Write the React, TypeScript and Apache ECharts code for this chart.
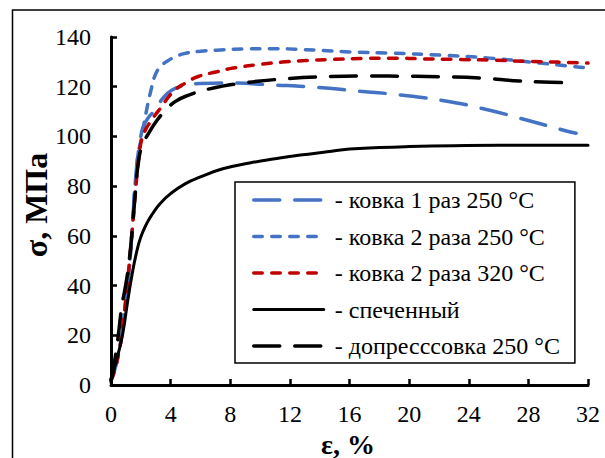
import React, { useEffect, useRef } from "react";
import * as echarts from "echarts";

// ковка 1 раз 250 °C
const forged1Strain = [0, 0.2, 0.45, 0.72, 0.94, 1.12, 1.39, 1.61, 1.8, 2.0, 2.17, 2.5, 2.95, 3.5, 4.07, 4.8, 6, 7.8, 10.9, 13.7, 16.5, 18.9, 22.1, 24.8, 27.4, 30.3, 31.2];
const forged1Stress = [2, 5, 11, 20, 31.5, 40, 60, 80, 92, 100, 104, 107.5, 110.6, 115.5, 118.6, 120.3, 121.3, 121.5, 120.7, 119.8, 118.3, 117, 114.6, 111.4, 107.4, 102.6, 101.3];

// ковка 2 раза 250 °C
const forged2Strain = [0, 0.2, 0.45, 0.72, 0.94, 1.12, 1.39, 1.61, 1.8, 2.06, 2.4, 2.7, 2.95, 3.3, 3.7, 4.2, 4.97, 6, 7.1, 9, 11, 12.7, 14.5, 16, 18.9, 22.1, 25.4, 28.8, 32];
const forged2Stress = [2, 5, 11, 20, 31.5, 40, 60, 80, 92, 100, 111, 119, 124.5, 128, 130, 131.7, 133.4, 134.3, 134.7, 135.2, 135.3, 135, 134.5, 134, 133.5, 132.7, 131.5, 129.5, 127.5];

// ковка 2 раза 320 °C
const forged320Strain = [0, 0.2, 0.45, 0.72, 0.95, 1.15, 1.39, 1.66, 1.85, 2.05, 2.3, 2.6, 2.95, 3.4, 3.85, 4.4, 5.0, 5.8, 7.1, 8.2, 10, 11.5, 13, 14.9, 17, 19, 21, 23, 25.4, 28, 30, 32];
const forged320Stress = [2, 5, 11, 20, 32, 44, 60, 79, 91, 98.5, 102.5, 105.5, 108.5, 112, 115.8, 119.2, 121.5, 124, 126, 127.5, 129, 129.9, 130.5, 131, 131.4, 131.5, 131.2, 131, 130.7, 130.2, 129.9, 129.5];

// спеченный
const sinteredStrain = [0, 0.2, 0.5, 0.8, 1.1, 1.4, 1.7, 2.0, 2.4, 2.8, 3.3, 4, 5, 6, 7.5, 9.3, 11, 12.7, 14.5, 16, 18, 20, 23, 26, 29, 32];
const sinteredStress = [1, 6, 13, 21, 33, 44, 53, 59.5, 65, 69, 73, 77, 81, 83.7, 87, 89.3, 91, 92.5, 93.8, 94.9, 95.5, 95.9, 96.3, 96.5, 96.5, 96.5];

// допресссовка 250 °C
const repressStrain = [0, 0.2, 0.49, 0.72, 0.98, 1.2, 1.39, 1.66, 1.85, 2.1, 2.5, 3.1, 3.6, 4.3, 5.3, 6.5, 8.9, 11.5, 14.2, 17.2, 20, 22.1, 24.8, 27.4, 29.5, 31.1];
const repressStress = [2, 8, 20, 31.5, 40, 49, 60, 79, 90, 96.5, 101, 106.6, 110, 114, 116.8, 119, 121.5, 123.1, 124, 124.3, 124.2, 124, 123.5, 122.3, 121.8, 121.5];

const seriesNames = [
  "- ковка 1 раз 250 °C",
  "- ковка 2 раза 250 °C",
  "- ковка 2 раза 320 °C",
  "- спеченный",
  "- допресссовка 250 °C",
];

const xTicks = [0, 4, 8, 12, 16, 20, 24, 28, 32];
const yTicks = [0, 20, 40, 60, 80, 100, 120, 140];

const FONT = "Liberation Serif";

function zip(xs: number[], ys: number[]) {
  return xs.map((x, i) => [x, ys[i]]);
}

export default function App() {
  const ref = useRef<HTMLDivElement>(null);
  useEffect(() => {
    if (!ref.current) return;
    const chart = echarts.init(ref.current, null, { renderer: "svg" });
    const BLUE = "#4472C4";
    const RED = "#C00000";
    const longDash = [26, 15];
    const shortDash = [8.5, 9.5];
    const styles = [
      { color: BLUE, type: longDash, width: 3.5 },
      { color: BLUE, type: shortDash, width: 3.5 },
      { color: RED, type: shortDash, width: 3.5 },
      { color: "#000", type: "solid", width: 3 },
      { color: "#000", type: longDash, width: 3.5 },
    ];
    const datas = [
      zip(forged1Strain, forged1Stress),
      zip(forged2Strain, forged2Stress),
      zip(forged320Strain, forged320Stress),
      zip(sinteredStrain, sinteredStress),
      zip(repressStrain, repressStress),
    ];
    chart.setOption({
      animation: false,
      backgroundColor: "#fff",
      textStyle: { fontFamily: FONT },
      grid: { left: 111, right: 17, top: 37, bottom: 73 },
      xAxis: {
        type: "value",
        min: xTicks[0],
        max: xTicks[xTicks.length - 1],
        interval: 4,
        axisLine: { lineStyle: { color: "#000", width: 3 } },
        axisTick: { inside: true, length: 6, lineStyle: { color: "#000", width: 2.5 } },
        splitLine: { show: false },
        axisLabel: { color: "#000", fontSize: 24, fontFamily: FONT, margin: 17 },
      },
      yAxis: {
        type: "value",
        min: yTicks[0],
        max: yTicks[yTicks.length - 1],
        interval: 20,
        axisLine: { show: true, lineStyle: { color: "#000", width: 3 } },
        axisTick: { show: true, inside: true, length: 6, lineStyle: { color: "#000", width: 2.5 } },
        splitLine: { show: false },
        axisLabel: { color: "#000", fontSize: 24, fontFamily: FONT, margin: 20 },
      },
      legend: {
        orient: "vertical",
        left: 235,
        top: 182,
        padding: [6, 15, 5, 17],
        itemWidth: 70,
        itemHeight: 14,
        itemGap: 12.5,
        borderColor: "#000",
        borderWidth: 1.5,
        backgroundColor: "#fff",
        data: seriesNames.map((name, i) => ({
          name,
          itemStyle: { opacity: 0 },
          lineStyle: { color: styles[i].color, width: styles[i].width, type: styles[i].type, cap: "round" },
        })),
        formatter: (n: string) => "\u00a0" + n,
        textStyle: { color: "#000", fontSize: 24, fontFamily: FONT, lineHeight: 24 },
      },
      graphic: [
        {
          type: "rect",
          shape: { x: 12.5, y: 10, width: 640, height: 480 },
          style: { fill: "none", stroke: "#000", lineWidth: 1.5 },
          silent: true,
        },
        {
          type: "text",
          x: 36,
          y: 205,
          rotation: Math.PI / 2,
          style: {
            text: "σ, МПа",
            fontFamily: FONT,
            fontSize: 32,
            fontWeight: "bold",
            fill: "#000",
            align: "center",
            verticalAlign: "middle",
          },
        },
        {
          type: "text",
          x: 348,
          y: 444,
          style: {
            text: "ε, %",
            fontFamily: FONT,
            fontSize: 28,
            fontWeight: "bold",
            fill: "#000",
            align: "center",
            verticalAlign: "middle",
          },
        },
      ],
      series: seriesNames.map((name, i) => ({
        name,
        type: "line",
        data: datas[i],
        symbol: "none",
        smooth: 0.5,
        lineStyle: { color: styles[i].color, width: styles[i].width, type: styles[i].type, cap: "round" },
        itemStyle: { color: styles[i].color },
        z: 3,
      })),
    });
    return () => chart.dispose();
  }, []);
  return (
    <div
      ref={ref}
      style={{ position: "fixed", left: 0, top: 0, width: 605, height: 458 }}
    />
  );
}
